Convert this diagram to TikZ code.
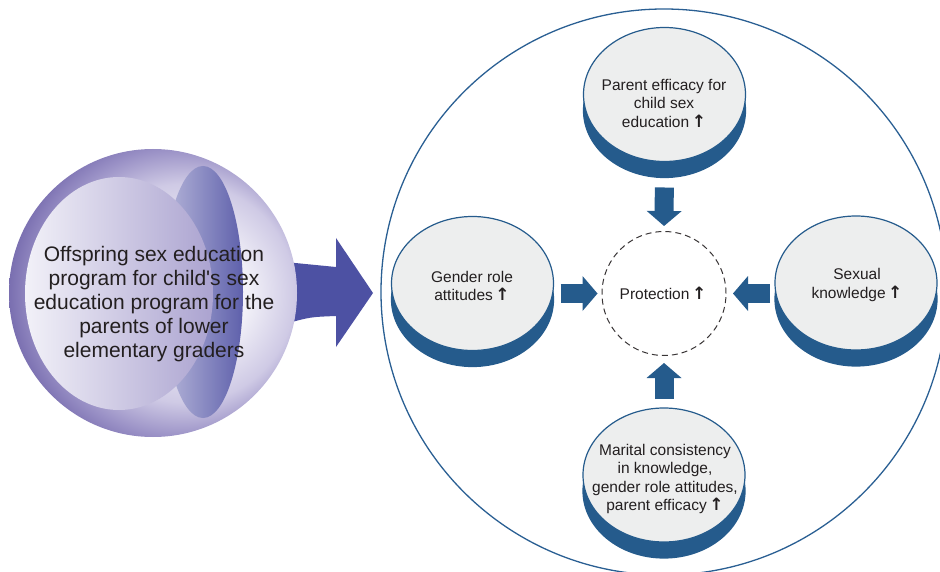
\documentclass[tikz,border=0pt]{standalone}
\usepackage{fontspec}
\setmainfont{Liberation Sans}
\newfontfamily\arrowfont{DejaVu Sans}
\usetikzlibrary{shapes.geometric,shadows,calc,arrows.meta}
\definecolor{discblue}{HTML}{255B8C}
\definecolor{discface}{HTML}{EDEEEE}
\definecolor{txt}{HTML}{231F20}
\definecolor{ringblue}{HTML}{2A5F93}
\definecolor{arrowpurple}{HTML}{4D51A3}
\definecolor{innerL}{HTML}{F2F1F8}
\definecolor{innerR}{HTML}{ABA3D0}
\definecolor{crescL}{HTML}{B7B7DA}
\definecolor{crescR}{HTML}{5E60AB}
\definecolor{sphW}{HTML}{F2F1F8}
\definecolor{sphL}{HTML}{CFCAE5}
\definecolor{sphM}{HTML}{9A91C6}
\definecolor{sphD}{HTML}{786DAF}
\pgfdeclareradialshading{sphereshade}{\pgfpoint{9bp}{0bp}}{color(0bp)=(sphW); color(9bp)=(sphW); color(19bp)=(sphL); color(25bp)=(sphM); color(29bp)=(sphD); color(50bp)=(sphD)}
\newcommand{\up}{\,{\arrowfont\bfseries\fontsize{17}{18}\selectfont ↑}}
\tikzset{
  disc/.style={ellipse, minimum width=162pt, minimum height=134pt, inner sep=0pt, outer sep=0pt,
    fill=discface, draw=discblue, line width=1.2pt,
    general shadow={shadow xshift=0pt, shadow yshift=-16pt, fill=discblue, draw=discblue}},
  disctext/.style={align=center, text=txt, font=\fontsize{15.5}{18.5}\selectfont, inner sep=0pt},
  blockarr/.style={draw=discblue, line width=19pt, -{Triangle[width=35pt, length=15pt, line width=0pt]}},
}
\begin{document}
\begin{tikzpicture}[x=1pt, y=-1pt]
\useasboundingbox (0,0) rectangle (940,572);
\clip (0,0) rectangle (940,572);
% big frame circle
\node[circle, draw=ringblue, line width=1.3pt, minimum size=566pt, inner sep=0pt, outer sep=0pt] (frame) at (664,292) {};
% big arrow behind the sphere
\fill[arrowpurple] (285,262) .. controls (310,265) .. (336,267) -- (336,238) -- (373,293)
  -- (336,347) -- (336,316) .. controls (310,317) .. (285,324) -- cycle;
% sphere
\node[circle, minimum size=288pt, inner sep=0pt, shade, shading=sphereshade] (sphere) at (153,293) {};
\node[ellipse, minimum width=80pt, minimum height=252pt, inner sep=0pt, left color=crescL, right color=crescR] (cresc) at (203,292) {};
\node[ellipse, minimum width=188pt, minimum height=233pt, inner sep=0pt, left color=innerL, right color=innerR] (inner) at (119,293.5) {};
\node[align=center, text=txt, font=\fontsize{21}{24}\selectfont, inner sep=0pt] (spheretxt) at (154,304)
  {Offspring sex education\\program for child\textquotesingle s sex\\education program for the\\parents of lower\\elementary graders};
% discs
\node[disc] (top) at (664.5,94.5) {};
\node[disc] (gender) at (472.5,283.5) {};
\node[disc] (sexual) at (856,283) {};
\node[disc] (bottom) at (664,475) {};
\node[disctext] (toptxt) at (664,103) {Parent efficacy for\\child sex\\education\up};
\node[disctext] (gendertxt) at (472,286) {Gender role\\attitudes\up};
\node[disctext] (sexualtxt) at (857,285) {Sexual\\knowledge\up};
\node[disctext] (bottomtxt) at (665,479) {Marital consistency\\in knowledge,\\gender role attitudes,\\parent efficacy\up};
% protection
\node[circle, draw=txt!90, dash pattern=on 6pt off 4pt, line width=1pt, minimum size=124pt, inner sep=0pt, outer sep=0pt] (prot) at (664,293.5) {};
\node[disctext] (prottxt) at (663,293) {Protection\up};
% block arrows
\draw[blockarr, shorten <=26pt, shorten >=5.5pt] (top.south) -- (prot.north);
\draw[blockarr, shorten <=7pt, shorten >=4.5pt] (prot.west -| gender.east) -- (prot.west);
\draw[blockarr, shorten <=5pt, shorten >=7pt] (prot.east -| sexual.west) -- (prot.east);
\draw[blockarr, shorten <=9pt, shorten >=7.5pt] (bottom.north) -- (prot.south);
\end{tikzpicture}
\end{document}
